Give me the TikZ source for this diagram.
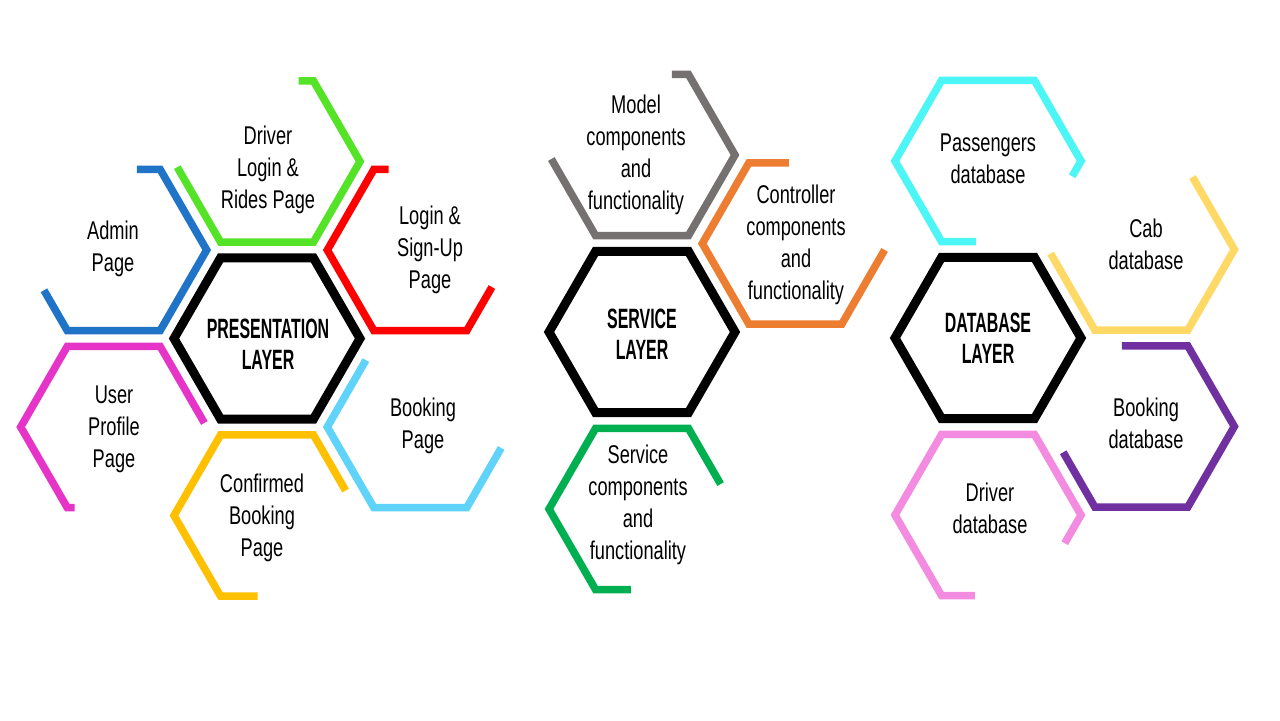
\documentclass[tikz,border=0pt]{standalone}
\usepackage{fontspec}
\setmainfont{Liberation Sans}
\newfontfamily\lblfont{Liberation Sans}[FakeStretch=0.71]
\newfontfamily\ttlfont{Liberation Sans}[FakeStretch=0.57]
\usetikzlibrary{calc}

% ring colours
\definecolor{cDriver}{HTML}{55E328}
\definecolor{cLogin}{HTML}{FF0000}
\definecolor{cBook}{HTML}{5FD3FA}
\definecolor{cConf}{HTML}{FFC000}
\definecolor{cUser}{HTML}{E633C8}
\definecolor{cAdmin}{HTML}{1F74C8}
\definecolor{cModel}{HTML}{767171}
\definecolor{cCtrl}{HTML}{ED7D31}
\definecolor{cSvc}{HTML}{00B050}
\definecolor{cPass}{HTML}{4DF6F6}
\definecolor{cCab}{HTML}{FFD966}
\definecolor{cBookDb}{HTML}{7030A0}
\definecolor{cDrvDb}{HTML}{F38CE0}

\newcommand\hexR{93}

\tikzset{
  ring/.style={line width=4.3pt, line join=miter, line cap=butt},
  core/.style={draw=black, line width=5.1pt, line join=miter},
  lbl/.style={font=\lblfont\fontsize{14.6}{18.2}\selectfont, align=center, inner sep=0pt},
  ttl/.style={font=\ttlfont\bfseries\fontsize{15.9}{17.6}\selectfont, align=center, inner sep=0pt},
}

\begin{document}
\begin{tikzpicture}[x=0.02cm, y=-0.02cm]
\fill[white] (0,0) rectangle (1280,720);
\useasboundingbox (0,0) rectangle (1280,720);

% ---------- presentation layer ----------
\begin{scope}[shift={(267,338.5)}]
  \draw[core] (0:\hexR) -- (60:\hexR) -- (120:\hexR) -- (180:\hexR) -- (240:\hexR) -- (300:\hexR) -- cycle;
\end{scope}
\begin{scope}[shift={(267,161.5)}]
  \draw[ring, cDriver] ($(300:\hexR)!0.16!(240:\hexR)$) -- (300:\hexR) -- (0:\hexR) -- (60:\hexR) -- (120:\hexR) -- ($(120:\hexR)!0.93!(180:\hexR)$);
\end{scope}
\begin{scope}[shift={(420.3,250)}]
  \draw[ring, cLogin] ($(240:\hexR)!0.16!(300:\hexR)$) -- (240:\hexR) -- (180:\hexR) -- (120:\hexR) -- (60:\hexR) -- ($(60:\hexR)!0.54!(0:\hexR)$);
\end{scope}
\begin{scope}[shift={(420.3,427)}]
  \draw[ring, cBook] ($(240:\hexR)!0.17!(180:\hexR)$) -- (180:\hexR) -- (120:\hexR) -- (60:\hexR) -- ($(60:\hexR)!0.74!(0:\hexR)$);
\end{scope}
\begin{scope}[shift={(267,515.5)}]
  \draw[ring, cConf] ($(120:\hexR)!0.4!(60:\hexR)$) -- (120:\hexR) -- (180:\hexR) -- (240:\hexR) -- (300:\hexR) -- ($(300:\hexR)!0.69!(0:\hexR)$);
\end{scope}
\begin{scope}[shift={(113.7,427)}]
  \draw[ring, cUser] ($(120:\hexR)!0.08!(60:\hexR)$) -- (120:\hexR) -- (180:\hexR) -- (240:\hexR) -- (300:\hexR) -- ($(300:\hexR)!0.95!(0:\hexR)$);
\end{scope}
\begin{scope}[shift={(113.7,250)}]
  \draw[ring, cAdmin] ($(300:\hexR)!0.25!(240:\hexR)$) -- (300:\hexR) -- (0:\hexR) -- (60:\hexR) -- (120:\hexR) -- ($(120:\hexR)!0.5!(180:\hexR)$);
\end{scope}

\node[ttl] (pres) at (268,344) {PRESENTATION\\LAYER};
\node[lbl] (drv) at (268,170) {Driver\\Login \&\\Rides Page};
\node[lbl] (login) at (430,250) {Login \&\\Sign-Up\\Page};
\node[lbl] (book) at (423,426) {Booking\\Page};
\node[lbl] (conf) at (262,518) {Confirmed\\Booking\\Page};
\node[lbl] (user) at (114,429) {User\\Profile\\Page};
\node[lbl] (adm) at (113,249) {Admin\\Page};

% ---------- service layer ----------
\begin{scope}[shift={(642,332)}]
  \draw[core] (0:\hexR) -- (60:\hexR) -- (120:\hexR) -- (180:\hexR) -- (240:\hexR) -- (300:\hexR) -- cycle;
\end{scope}
\begin{scope}[shift={(642,155)}]
  \draw[ring, cModel] ($(300:\hexR)!0.18!(240:\hexR)$) -- (300:\hexR) -- (0:\hexR) -- (60:\hexR) -- (120:\hexR) -- ($(120:\hexR)!0.95!(180:\hexR)$);
\end{scope}
\begin{scope}[shift={(795.3,243.5)}]
  \draw[ring, cCtrl] ($(240:\hexR)!0.43!(300:\hexR)$) -- (240:\hexR) -- (180:\hexR) -- (120:\hexR) -- (60:\hexR) -- ($(60:\hexR)!0.92!(0:\hexR)$);
\end{scope}
\begin{scope}[shift={(642,509)}]
  \draw[ring, cSvc] ($(120:\hexR)!0.38!(60:\hexR)$) -- (120:\hexR) -- (180:\hexR) -- (240:\hexR) -- (300:\hexR) -- ($(300:\hexR)!0.69!(0:\hexR)$);
\end{scope}

\node[ttl] (svl) at (642,334) {SERVICE\\LAYER};
\node[lbl] (model) at (636,155) {Model\\components\\and\\functionality};
\node[lbl] (ctrl) at (796,245) {Controller\\components\\and\\functionality};
\node[lbl] (svc) at (638,505) {Service\\components\\and\\functionality};

% ---------- database layer ----------
\begin{scope}[shift={(988,338)}]
  \draw[core] (0:\hexR) -- (60:\hexR) -- (120:\hexR) -- (180:\hexR) -- (240:\hexR) -- (300:\hexR) -- cycle;
\end{scope}
\begin{scope}[shift={(988,161)}]
  \draw[ring, cPass] ($(120:\hexR)!0.37!(60:\hexR)$) -- (120:\hexR) -- (180:\hexR) -- (240:\hexR) -- (300:\hexR) -- (0:\hexR) -- ($(0:\hexR)!0.19!(60:\hexR)$);
\end{scope}
\begin{scope}[shift={(1141.3,249.5)}]
  \draw[ring, cCab] ($(300:\hexR)!0.1!(0:\hexR)$) -- (0:\hexR) -- (60:\hexR) -- (120:\hexR) -- ($(120:\hexR)!0.95!(180:\hexR)$);
\end{scope}
\begin{scope}[shift={(1141.3,426.5)}]
  \draw[ring, cBookDb] ($(240:\hexR)!0.29!(300:\hexR)$) -- (300:\hexR) -- (0:\hexR) -- (60:\hexR) -- (120:\hexR) -- ($(120:\hexR)!0.68!(180:\hexR)$);
\end{scope}
\begin{scope}[shift={(988,515)}]
  \draw[ring, cDrvDb] ($(120:\hexR)!0.36!(60:\hexR)$) -- (120:\hexR) -- (180:\hexR) -- (240:\hexR) -- (300:\hexR) -- (0:\hexR) -- ($(0:\hexR)!0.35!(60:\hexR)$);
\end{scope}

\node[ttl] (dbl) at (988,338) {DATABASE\\LAYER};
\node[lbl] (pass) at (988,159) {Passengers\\database};
\node[lbl] (cab) at (1146,244) {Cab\\database};
\node[lbl] (bookdb) at (1146,423) {Booking\\database};
\node[lbl] (drvdb) at (990,508) {Driver\\database};
\end{tikzpicture}
\end{document}
